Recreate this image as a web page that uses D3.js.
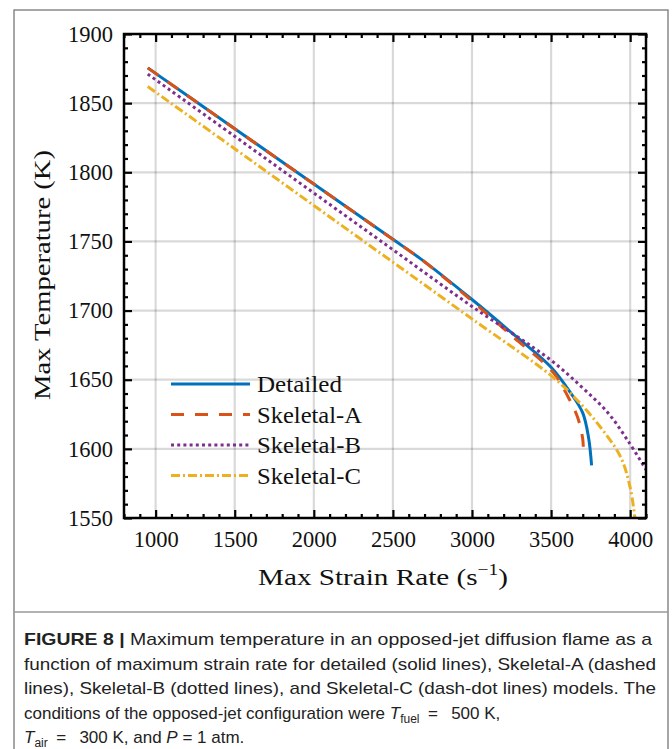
<!DOCTYPE html>
<html>
<head>
<meta charset="utf-8">
<script src="https://cdn.jsdelivr.net/npm/d3@7"></script>
<style>
  body { margin: 0; background: #fff; }
  svg { display: block; }
</style>
</head>
<body>
<div id="chart"></div>
<script>
// values
var detailedStrain = [950, 1500, 2000, 2500, 2680, 3000, 3250, 3500, 3620, 3700, 3737, 3756];
var detailedTemp   = [1875.5, 1831.5, 1791.5, 1751.5, 1737, 1708, 1684, 1659, 1641, 1626, 1608, 1588];
var skelAStrain = [950, 1500, 2000, 2500, 2680, 3000, 3250, 3515, 3610, 3667, 3699, 3705];
var skelATemp   = [1875.5, 1831.5, 1791.5, 1751.5, 1737, 1707, 1682, 1655, 1637, 1623, 1608, 1597];
var skelBStrain = [950, 1500, 2000, 2500, 3000, 3500, 3700, 3860, 3985, 4100];
var skelBTemp   = [1871, 1826, 1785, 1744, 1703, 1664, 1644, 1626, 1606, 1585];
var skelCStrain = [950, 1500, 2000, 2500, 3000, 3500, 3650, 3810, 3940, 4000, 4030];
var skelCTemp   = [1862, 1817, 1776, 1735, 1694, 1653, 1637, 1616, 1594, 1572, 1550];

var seriesNames = ["Detailed", "Skeletal-A", "Skeletal-B", "Skeletal-C"];
var seriesColors = ["#0072BD", "#D95319", "#7E2F8E", "#EDB120"];
var seriesDash = [null, "13,11", "3,3.2", "9,3,2,3"];
var legendWidths = [85, 105, 104, 104];

var xTicks = [1000, 1500, 2000, 2500, 3000, 3500, 4000];
var yTicks = [1550, 1600, 1650, 1700, 1750, 1800, 1850, 1900];

var series = [
  { name: seriesNames[0], x: detailedStrain, y: detailedTemp },
  { name: seriesNames[1], x: skelAStrain, y: skelATemp },
  { name: seriesNames[2], x: skelBStrain, y: skelBTemp },
  { name: seriesNames[3], x: skelCStrain, y: skelCTemp }
];

var width = 672, height = 749;
var pLeft = 124, pRight = 646, pTop = 34, pBottom = 518;

var svg = d3.select("#chart").append("svg").attr("width", width).attr("height", height);

// figure frame
svg.append("rect").attr("x", 14).attr("y", 10).attr("width", 654).attr("height", 760)
    .attr("fill", "none").attr("stroke", "#777").attr("stroke-width", 1.3);
svg.append("line").attr("x1", 14).attr("x2", 668).attr("y1", 612).attr("y2", 612)
    .attr("stroke", "#999").attr("stroke-width", 1.3);

var xScale = d3.scaleLinear().domain([800, 4100]).range([pLeft, pRight]);
var yScale = d3.scaleLinear().domain([1550, 1900]).range([pBottom, pTop]);

// grid
var grid = svg.append("g");
grid.selectAll(".vx").data(xTicks).enter().append("line")
    .attr("x1", d => xScale(d)).attr("x2", d => xScale(d))
    .attr("y1", pTop).attr("y2", pBottom)
    .attr("stroke", "#000").attr("stroke-opacity", 0.15).attr("stroke-width", 2.2);
grid.selectAll(".hy").data(yTicks).enter().append("line")
    .attr("x1", pLeft).attr("x2", pRight)
    .attr("y1", d => yScale(d)).attr("y2", d => yScale(d))
    .attr("stroke", "#000").attr("stroke-opacity", 0.15).attr("stroke-width", 2.2);

// curves
var line = d3.line()
    .x(d => xScale(d[0]))
    .y(d => yScale(d[1]))
    .curve(d3.curveCatmullRom.alpha(0.5));

svg.append("clipPath").attr("id", "clip").append("rect")
    .attr("x", pLeft).attr("y", pTop).attr("width", pRight - pLeft).attr("height", pBottom - pTop);

var lines = svg.append("g").attr("clip-path", "url(#clip)");
series.forEach(function(s, i) {
    var pts = s.x.map((v, j) => [v, s.y[j]]);
    lines.append("path").datum(pts)
        .attr("d", line)
        .attr("fill", "none")
        .attr("stroke", seriesColors[i])
        .attr("stroke-width", 3)
        .attr("stroke-dasharray", seriesDash[i]);
});

// axes with inward ticks on all four sides
var xMinor = d3.range(800, 4101, 100).filter(v => v % 500 != 0);
var yMinor = d3.range(1550, 1901, 10).filter(v => v % 50 != 0);

function styleAxis(g) {
    g.select(".domain").remove();
    g.selectAll(".tick line").attr("stroke", "#000").attr("stroke-width", 2.2);
}

var tickFont = "'Liberation Serif', 'Times New Roman', serif";

svg.append("g").attr("transform", "translate(0," + pBottom + ")")
    .call(d3.axisBottom(xScale).tickValues(xTicks).tickSize(-8).tickPadding(13).tickFormat(d3.format("d")))
    .call(styleAxis)
    .selectAll("text").style("font-family", tickFont).style("font-size", "22.5px").attr("fill", "#111");
svg.append("g").attr("transform", "translate(0," + pBottom + ")")
    .call(d3.axisBottom(xScale).tickValues(xMinor).tickSize(-4).tickFormat(""))
    .call(styleAxis);
svg.append("g").attr("transform", "translate(0," + pTop + ")")
    .call(d3.axisTop(xScale).tickValues(xTicks).tickSize(-8).tickFormat(""))
    .call(styleAxis);
svg.append("g").attr("transform", "translate(0," + pTop + ")")
    .call(d3.axisTop(xScale).tickValues(xMinor).tickSize(-4).tickFormat(""))
    .call(styleAxis);

svg.append("g").attr("transform", "translate(" + pLeft + ",0)")
    .call(d3.axisLeft(yScale).tickValues(yTicks).tickSize(-8).tickPadding(11).tickFormat(d3.format("d")))
    .call(styleAxis)
    .selectAll("text").style("font-family", tickFont).style("font-size", "22.5px").attr("fill", "#111");
svg.append("g").attr("transform", "translate(" + pLeft + ",0)")
    .call(d3.axisLeft(yScale).tickValues(yMinor).tickSize(-4).tickFormat(""))
    .call(styleAxis);
svg.append("g").attr("transform", "translate(" + pRight + ",0)")
    .call(d3.axisRight(yScale).tickValues(yTicks).tickSize(-8).tickFormat(""))
    .call(styleAxis);
svg.append("g").attr("transform", "translate(" + pRight + ",0)")
    .call(d3.axisRight(yScale).tickValues(yMinor).tickSize(-4).tickFormat(""))
    .call(styleAxis);

// plot frame
svg.append("rect").attr("x", pLeft).attr("y", pTop).attr("width", pRight - pLeft).attr("height", pBottom - pTop)
    .attr("fill", "none").attr("stroke", "#000").attr("stroke-width", 2.5);

// axis labels
svg.append("text")
    .attr("x", 258).attr("y", 585)
    .attr("textLength", 250).attr("lengthAdjust", "spacingAndGlyphs")
    .style("font-family", tickFont).style("font-size", "24px").attr("fill", "#111")
    .call(t => {
        t.append("tspan").text("Max Strain Rate (s");
        t.append("tspan").attr("dy", -10).style("font-size", "16px").text("\u22121");
        t.append("tspan").attr("dy", 10).text(")");
    });

svg.append("text")
    .attr("transform", "translate(50,400) rotate(-90)")
    .attr("textLength", 250).attr("lengthAdjust", "spacingAndGlyphs")
    .style("font-family", tickFont).style("font-size", "24px").attr("fill", "#111")
    .text("Max Temperature (K)");

// legend
var legend = svg.append("g");
seriesNames.forEach(function(name, i) {
    var y = 384 + i * 30.5;
    legend.append("line").attr("x1", 171).attr("x2", 250).attr("y1", y).attr("y2", y)
        .attr("stroke", seriesColors[i]).attr("stroke-width", 3)
        .attr("stroke-dasharray", seriesDash[i]);
    legend.append("text").attr("x", 257).attr("y", y + 8)
        .attr("textLength", legendWidths[i]).attr("lengthAdjust", "spacingAndGlyphs")
        .style("font-family", tickFont).style("font-size", "23px").attr("fill", "#111")
        .text(name);
});

// caption
var capFont = "'Liberation Sans', Arial, sans-serif";
var cap = svg.append("g").style("font-family", capFont).style("font-size", "17px").attr("fill", "#222");
var capX = 24, capY0 = 645, capDy = 24.5;

var l1 = cap.append("text").attr("x", capX).attr("y", capY0).attr("textLength", 628).attr("lengthAdjust", "spacingAndGlyphs");
l1.append("tspan").style("font-weight", "bold").text("FIGURE 8 | ");
l1.append("tspan").text("Maximum temperature in an opposed-jet diffusion flame as a");

cap.append("text").attr("x", capX).attr("y", capY0 + capDy).attr("textLength", 632).attr("lengthAdjust", "spacingAndGlyphs")
    .text("function of maximum strain rate for detailed (solid lines), Skeletal-A (dashed");
cap.append("text").attr("x", capX).attr("y", capY0 + 2 * capDy).attr("textLength", 632).attr("lengthAdjust", "spacingAndGlyphs")
    .text("lines), Skeletal-B (dotted lines), and Skeletal-C (dash-dot lines) models. The");

var l4 = cap.append("text").attr("x", capX).attr("y", capY0 + 3 * capDy);
l4.append("tspan").text("conditions of the opposed-jet configuration were ");
l4.append("tspan").style("font-style", "italic").text("T");
l4.append("tspan").attr("dy", 4).style("font-size", "12px").text("fuel");
l4.append("tspan").attr("dy", -4).text("\u2002=\u2002 500 K,");

var l5 = cap.append("text").attr("x", capX).attr("y", capY0 + 4 * capDy);
l5.append("tspan").style("font-style", "italic").text("T");
l5.append("tspan").attr("dy", 4).style("font-size", "12px").text("air");
l5.append("tspan").attr("dy", -4).text("\u2002=\u2002 300 K, and ");
l5.append("tspan").style("font-style", "italic").text("P");
l5.append("tspan").text(" = 1 atm.");
</script>
</body>
</html>
